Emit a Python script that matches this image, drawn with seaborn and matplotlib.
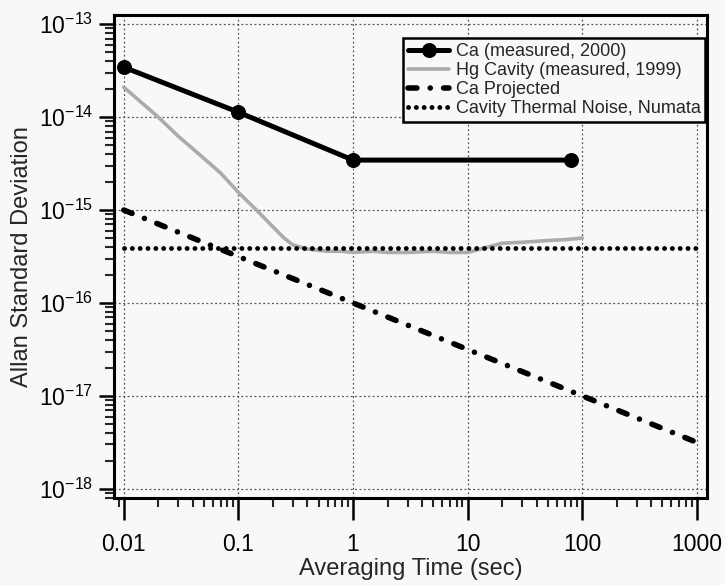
import matplotlib
matplotlib.use("Agg")
from matplotlib import pyplot as plt
from matplotlib import ticker
import seaborn as sns

# Ca (measured, 2000)
ca_tau = [0.01, 0.1, 1, 80]
ca_sig = [3.45e-14, 1.13e-14, 3.45e-15, 3.45e-15]

# Hg Cavity (measured, 1999)
hg_tau = [0.01, 0.02, 0.03, 0.05, 0.07, 0.1, 0.15, 0.2, 0.25, 0.3, 0.4,
          0.6, 0.8, 1, 1.5, 2, 3, 5, 7, 10, 15, 20, 30, 50, 70, 100]
hg_sig = [2.1e-14, 1.0e-14, 6.2e-15, 3.6e-15, 2.5e-15, 1.55e-15, 9.5e-16,
          6.6e-16, 5.0e-16, 4.2e-16, 3.8e-16, 3.6e-16, 3.6e-16, 3.5e-16,
          3.6e-16, 3.5e-16, 3.5e-16, 3.6e-16, 3.5e-16, 3.5e-16, 4.0e-16,
          4.4e-16, 4.5e-16, 4.7e-16, 4.8e-16, 5.0e-16]

# Ca Projected
proj_tau = [0.01, 0.1, 1, 10, 100, 1000]
proj_sig = [1e-15, 3.16e-16, 1e-16, 3.16e-17, 1e-17, 3.16e-18]

# Cavity Thermal Noise, Numata
th_tau = [0.01, 1000]
th_sig = [3.9e-16, 3.9e-16]

x_ticks = [0.01, 0.1, 1, 10, 100, 1000]
x_labels = ["0.01", "0.1", "1", "10", "100", "1000"]
y_ticks = [1e-18, 1e-17, 1e-16, 1e-15, 1e-14, 1e-13]

sns.set_style("ticks")
plt.rcParams['font.family'] = ['Liberation Sans', 'DejaVu Sans']
plt.rcParams['mathtext.default'] = 'regular'

bg = '#f8f8f8'
fig = plt.figure(figsize=(7.25, 5.85), dpi=100, facecolor=bg)
ax = fig.add_axes([0.157, 0.149, 0.818, 0.825], facecolor=bg)

ax.set_xscale('log')
ax.set_yscale('log')

sns.lineplot(x=hg_tau, y=hg_sig, ax=ax, color='#ababab', linewidth=2.6,
             estimator=None, sort=False, label='Hg Cavity (measured, 1999)', zorder=3)
sns.lineplot(x=ca_tau, y=ca_sig, ax=ax, color='black', linewidth=3.6, marker='o',
             markersize=10, markeredgecolor='black', estimator=None, sort=False,
             label='Ca (measured, 2000)', zorder=5)
sns.lineplot(x=proj_tau, y=proj_sig, ax=ax, color='black', linewidth=4,
             estimator=None, sort=False, label='Ca Projected', zorder=4)
sns.lineplot(x=th_tau, y=th_sig, ax=ax, color='black', linewidth=3.5,
             estimator=None, sort=False, label='Cavity Thermal Noise, Numata', zorder=4)

lines = ax.get_lines()
lines[2].set_dashes([1.6, 2.4, 0.01, 2.4])
lines[2].set_dash_capstyle('round')
lines[3].set_dashes([0.01, 1.6])
lines[3].set_dash_capstyle('round')

ax.set_xlim(10 ** -2.087, 10 ** 3.087)
ax.set_ylim(10 ** -18.097, 10 ** -12.903)

ax.set_xticks(x_ticks)
ax.set_xticklabels(x_labels)
ax.set_yticks(y_ticks)
ax.yaxis.set_major_formatter(ticker.LogFormatterMathtext())
ax.xaxis.set_minor_locator(ticker.LogLocator(base=10, subs=range(2, 10), numticks=20))
ax.yaxis.set_minor_locator(ticker.LogLocator(base=10, subs=range(2, 10), numticks=20))
ax.xaxis.set_minor_formatter(ticker.NullFormatter())
ax.yaxis.set_minor_formatter(ticker.NullFormatter())

ax.tick_params(axis='both', which='major', direction='out', width=1.8,
               labelsize=16.5, colors='black')
ax.tick_params(axis='x', which='major', length=16, pad=9)
ax.tick_params(axis='y', which='major', length=11, pad=4)
ax.tick_params(axis='both', which='minor', direction='out', length=6.5, width=1.5)

ax.grid(True, which='major', linestyle=(0, (1.5, 2)), color='#555555', linewidth=0.9)

for s in ax.spines.values():
    s.set_linewidth(2.2)
    s.set_color('black')

ax.set_xlabel("Averaging Time (sec)", fontsize=17, labelpad=2)
ax.set_ylabel("Allan Standard Deviation", fontsize=17, labelpad=4)

handles, labels = ax.get_legend_handles_labels()
order = [1, 0, 2, 3]
leg = ax.legend([handles[i] for i in order], [labels[i] for i in order],
                loc='upper right', bbox_to_anchor=(0.997, 0.952), fontsize=13,
                frameon=True, fancybox=False, edgecolor='black', facecolor=bg,
                framealpha=1, borderaxespad=0, handlelength=2.3, handletextpad=0.35,
                labelspacing=0.12, borderpad=0.25)
leg.get_frame().set_linewidth(1.8)

fig.savefig("out.png", dpi=100, facecolor=bg)
